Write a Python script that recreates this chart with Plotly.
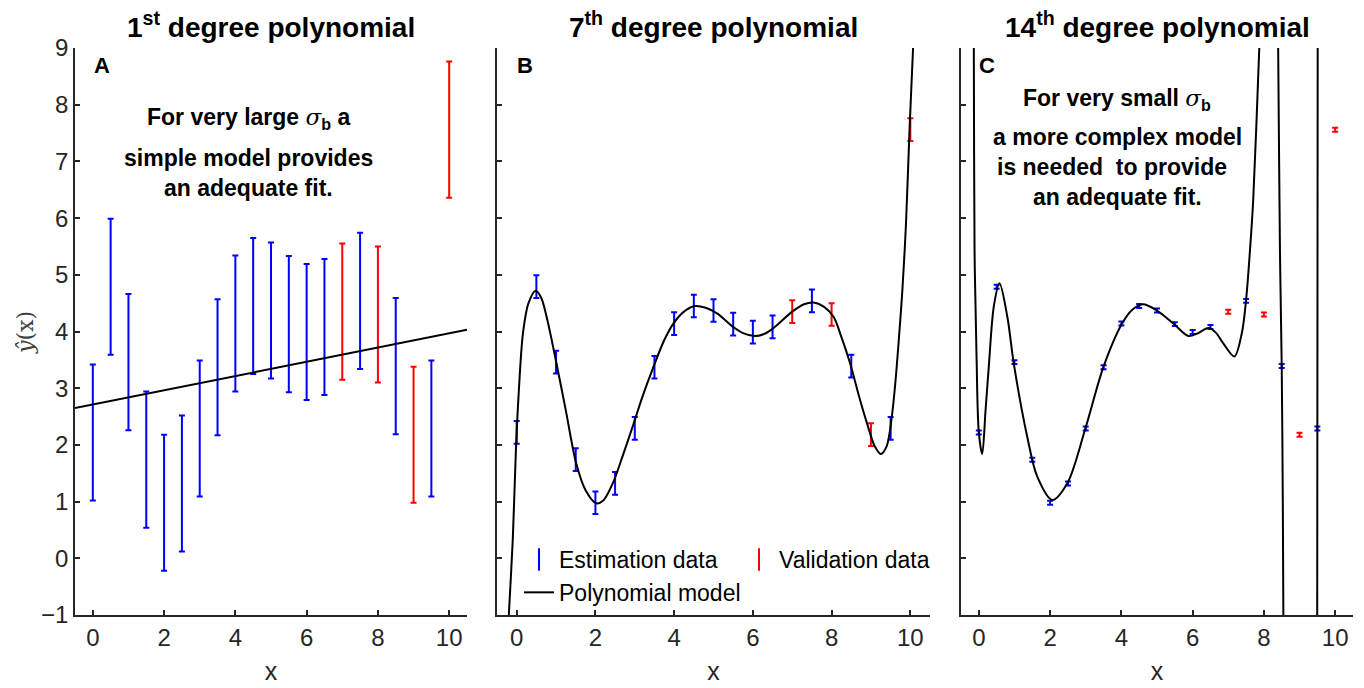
import plotly.graph_objects as go

# ---------------- data ----------------
x_est = [0, 0.5, 1, 1.5, 2, 2.5, 3, 3.5, 4, 4.5, 5, 5.5, 6, 6.5, 7.5, 8.5, 9.5]
y_est = [2.22, 4.79, 3.46, 1.74, 0.98, 1.32, 2.29, 3.37, 4.14, 4.45, 4.37, 4.13,
         3.99, 4.08, 4.54, 3.39, 2.29]
x_val = [7, 8, 9, 10]
y_val = [4.35, 4.30, 2.18, 7.56]

sigma_a = 1.2    # panel A error (half-width)
sigma_b = 0.2    # panel B
sigma_c = 0.035  # panel C

# 1st degree polynomial model (panel A)
poly1_x = [-0.5, 10.5]
poly1_y = [2.65, 4.03]

# 7th degree polynomial model (panel B)
poly7_x = [-0.23, -0.2, -0.1, -0.02, 0.05, 0.16, 0.3, 0.48, 0.62, 0.76, 1.01, 1.25,
           1.51, 1.75, 2.02, 2.2, 2.44, 2.7, 2.95, 3.2, 3.46, 3.75, 3.98, 4.25, 4.53,
           4.8, 5.09, 5.5, 5.75, 6.05, 6.3, 6.52, 7.0, 7.3, 7.54, 7.8, 8.05, 8.25,
           8.47, 8.7, 8.9, 9.1, 9.25, 9.4, 9.53, 9.62, 9.72, 9.8, 9.89, 9.98, 10.07,
           10.1]
poly7_y = [-1.5, -1.0, 0.32, 1.9, 2.9, 3.97, 4.5, 4.72, 4.6, 4.26, 3.44, 2.6,
           1.68, 1.2, 0.97, 1.02, 1.32, 1.82, 2.33, 2.86, 3.35, 3.85, 4.14, 4.35, 4.45,
           4.42, 4.32, 4.08, 3.97, 3.92, 3.96, 4.06, 4.35, 4.48, 4.51, 4.44, 4.26, 3.9,
           3.44, 2.85, 2.38, 1.97, 1.84, 1.98, 2.5, 3.1, 3.97, 4.75, 5.9, 7.56, 9.0,
           9.6]

# 14th degree polynomial model (panel C) (None = off-scale gap)
poly14_x = [-0.15, -0.14, -0.12, -0.065, 0, 0.095, 0.19, 0.28, 0.42, 0.58, 0.8, 0.98,
            1.36, 1.64, 2.06, 2.48, 2.99, 3.5, 4.02, 4.3, 4.6, 5.0, 5.46, 5.88, 6.15,
            6.44, 6.65, 6.86, 7.17, 7.38, 7.5, 7.61, 7.7, 7.87, 7.9,
            None,
            8.39, 8.40, 8.45, 8.50, 8.53, 8.55,
            None,
            9.495, 9.5, 9.51]
poly14_y = [9.5, 9.0, 5.44, 3.6, 2.22, 1.84, 2.62, 3.38, 4.44, 4.85, 4.26, 3.44,
            2.14, 1.44, 1.03, 1.32, 2.29, 3.38, 4.14, 4.38, 4.48, 4.37, 4.14, 3.92, 3.97,
            4.06, 3.98, 3.79, 3.56, 3.97, 4.56, 5.44, 6.32, 9.0, 9.5,
            None,
            9.5, 9.0, 5.44, 3.38, 1.0, -1.5,
            None,
            -1.5, 2.29, 9.5]

x_ticks = [0, 2, 4, 6, 8, 10]
y_ticks = [-1, 0, 1, 2, 3, 4, 5, 6, 7, 8, 9]
titles = ["<b>1<sup>st</sup> degree polynomial</b>",
          "<b>7<sup>th</sup> degree polynomial</b>",
          "<b>14<sup>th</sup> degree polynomial</b>"]
panel_letters = ["A", "B", "C"]

# ---------------- figure ----------------
W, H = 1364, 688
OFF = 8  # page body margin offset of the rendered figure
FONT = "Liberation Sans, Arial, sans-serif"
AX = "#262626"
BLUE = "#0000FF"
RED = "#FF0000"


def fx(px):
    return (px - OFF) / W


def fy(py):
    return 1 - (py - OFF) / H


fig = go.Figure()

sigmas = [sigma_a, sigma_b, sigma_c]
models = [(poly1_x, poly1_y), (poly7_x, poly7_y), (poly14_x, poly14_y)]
for i in range(3):
    xa = "x" if i == 0 else f"x{i+1}"
    ya = "y" if i == 0 else f"y{i+1}"
    fig.add_trace(go.Scatter(
        x=x_est, y=y_est, mode="markers", xaxis=xa, yaxis=ya,
        marker=dict(color="rgba(0,0,0,0)", size=1),
        error_y=dict(type="constant", value=sigmas[i], color=BLUE, thickness=2, width=3),
        showlegend=False, hoverinfo="skip"))
    fig.add_trace(go.Scatter(
        x=x_val, y=y_val, mode="markers", xaxis=xa, yaxis=ya,
        marker=dict(color="rgba(0,0,0,0)", size=1),
        error_y=dict(type="constant", value=sigmas[i], color=RED, thickness=2, width=3),
        showlegend=False, hoverinfo="skip"))
for i in range(3):
    xa = "x" if i == 0 else f"x{i+1}"
    ya = "y" if i == 0 else f"y{i+1}"
    mx, my = models[i]
    fig.add_trace(go.Scatter(
        x=mx, y=my, mode="lines", xaxis=xa, yaxis=ya,
        line=dict(color="black", width=2, shape="linear" if i == 0 else "spline",
                  smoothing=0.9),
        connectgaps=False, showlegend=False, hoverinfo="skip"))

# legend entries (panel B)
fig.add_trace(go.Scatter(x=[None], y=[None], mode="markers", name="Estimation data",
                         marker=dict(symbol="line-ns", size=22,
                                     line=dict(color=BLUE, width=2)),
                         legend="legend", xaxis="x2", yaxis="y2"))
fig.add_trace(go.Scatter(x=[None], y=[None], mode="lines", name="Polynomial model",
                         line=dict(color="black", width=2),
                         legend="legend", xaxis="x2", yaxis="y2"))
fig.add_trace(go.Scatter(x=[None], y=[None], mode="markers", name="Validation data",
                         marker=dict(symbol="line-ns", size=22,
                                     line=dict(color=RED, width=2)),
                         legend="legend2", xaxis="x2", yaxis="y2"))

domains = [(fx(75), fx(467)), (fx(497), fx(930)), (fx(961), fx(1353))]
ydom = [fy(615), fy(48)]


def xaxis_cfg(dom, anchor):
    return dict(domain=list(dom), anchor=anchor, range=[-0.5, 10.5], automargin=False,
                tickvals=x_ticks, ticks="inside", ticklen=5, tickwidth=1.5,
                tickcolor=AX, showline=True, linecolor=AX, linewidth=1.5,
                showgrid=False, zeroline=False, mirror=False,
                tickfont=dict(family=FONT, size=24, color=AX),
                title=dict(text="x", font=dict(family=FONT, size=25, color=AX),
                           standoff=13))


def yaxis_cfg(anchor, labels):
    return dict(domain=ydom, anchor=anchor, range=[-1, 9], tickvals=y_ticks,
                automargin=False,
                ticks="inside", ticklen=5, tickwidth=1.5, tickcolor=AX,
                showline=True, linecolor=AX, linewidth=1.5, showgrid=False,
                zeroline=False, mirror=False, showticklabels=labels,
                tickfont=dict(family=FONT, size=24, color=AX))


annotations = []
centers = [(75 + 467) / 2, (497 + 930) / 2, (961 + 1353) / 2]
for i in range(3):
    annotations.append(dict(text=titles[i], xref="paper", yref="paper",
                            x=fx(centers[i]), y=fy(25), xanchor="center",
                            yanchor="middle", showarrow=False,
                            font=dict(family=FONT, size=28, color="black")))
letter_x = [92, 515, 977]
for i in range(3):
    annotations.append(dict(text="<b>" + panel_letters[i] + "</b>", xref="paper",
                            yref="paper", x=fx(letter_x[i]), y=fy(65),
                            xanchor="left", yanchor="middle", showarrow=False,
                            font=dict(family=FONT, size=22, color="black")))

SIG = "<span style='font-family:DejaVu Serif;font-weight:normal'><i>σ</i></span>"
textA = ["<b>For very large </b>" + SIG + "<sub><b>b</b></sub><b> a</b>",
         "<b>simple model provides</b>",
         "<b>an adequate fit.</b>"]
textA_y = [119, 158, 188]
for t, yy in zip(textA, textA_y):
    annotations.append(dict(text=t, xref="paper", yref="paper", x=fx(248),
                            y=fy(yy), xanchor="center", yanchor="middle",
                            showarrow=False,
                            font=dict(family=FONT, size=23, color="black")))
textC = ["<b>For very small </b>" + SIG + "<sub><b>b</b></sub>",
         "<b>a more complex model</b>",
         "<b>is needed  to provide</b>",
         "<b>an adequate fit.</b>"]
textC_y = [99, 137, 167, 197]
textC_x = [1117, 1117, 1112, 1117]
for t, yy, xx in zip(textC, textC_y, textC_x):
    annotations.append(dict(text=t, xref="paper", yref="paper", x=fx(xx),
                            y=fy(yy), xanchor="center", yanchor="middle",
                            showarrow=False,
                            font=dict(family=FONT, size=23, color="black")))
# y-axis label
annotations.append(dict(text="<i>ŷ</i>(x)", xref="paper", yref="paper",
                        x=fx(25), y=fy(333), xanchor="center", yanchor="middle",
                        textangle=-90, showarrow=False,
                        font=dict(family="DejaVu Serif, Liberation Serif, serif",
                                  size=22, color="#404040")))

fig.update_layout(
    width=W, height=H, margin=dict(l=0, r=0, t=0, b=0, autoexpand=False),
    paper_bgcolor="white", plot_bgcolor="white",
    font=dict(family=FONT, color=AX),
    xaxis=xaxis_cfg(domains[0], "y"),
    xaxis2=xaxis_cfg(domains[1], "y2"),
    xaxis3=xaxis_cfg(domains[2], "y3"),
    yaxis=yaxis_cfg("x", True),
    yaxis2=yaxis_cfg("x2", False),
    yaxis3=yaxis_cfg("x3", False),
    annotations=annotations,
    legend=dict(x=fx(519), y=fy(538), xanchor="left", yanchor="top",
                bgcolor="rgba(0,0,0,0)", borderwidth=0, tracegroupgap=0,
                font=dict(family=FONT, size=23, color="black")),
    legend2=dict(x=fx(739), y=fy(538), xanchor="left", yanchor="top",
                 bgcolor="rgba(0,0,0,0)", borderwidth=0,
                 font=dict(family=FONT, size=23, color="black")),
    showlegend=True,
)

fig.write_html("out.html")
